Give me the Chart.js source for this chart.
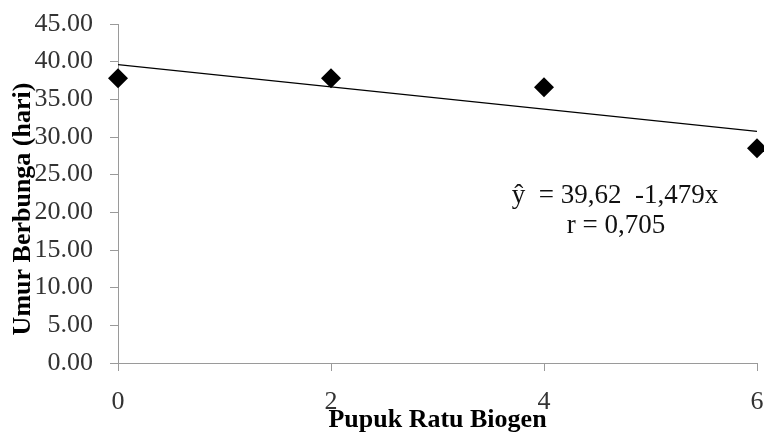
<!DOCTYPE html>
<html><head><meta charset="utf-8">
<script src="https://cdn.jsdelivr.net/npm/chart.js@4"></script>
<style>html,body{margin:0;padding:0;background:#fff}</style>
</head><body>
<canvas id="c" width="764" height="434"></canvas>
<script>
// ---- data ----
const doses = [0, 2, 4, 6];
const floweringAge = [37.8, 37.8, 36.6, 28.5];
const trendX = [0, 6];
const trendY = [39.62, 30.75];
const xTickValues = [0, 2, 4, 6];
const yTickValues = [0, 5, 10, 15, 20, 25, 30, 35, 40, 45];
const xTitle = 'Pupuk Ratu Biogen';
const yTitle = 'Umur Berbunga (hari)';
const equationLines = ['ŷ  = 39,62  -1,479x', 'r = 0,705'];

const serif = '"Liberation Serif", "Times New Roman", serif';
const axisGray = '#9a9a9a';

const textPlugin = {
  id: 'texts',
  afterDraw(chart) {
    const ctx = chart.ctx;
    ctx.save();
    ctx.fillStyle = '#000';
    ctx.font = 'bold 26px ' + serif;
    ctx.textAlign = 'center';
    ctx.textBaseline = 'middle';
    ctx.translate(23, 209);
    ctx.rotate(-Math.PI / 2);
    ctx.fillText(yTitle, 0, 0);
    ctx.restore();

    ctx.save();
    ctx.fillStyle = '#111';
    ctx.font = '27px ' + serif;
    ctx.textAlign = 'center';
    ctx.textBaseline = 'alphabetic';
    ctx.fillText(equationLines[0], 615, 203);
    ctx.fillText(equationLines[1], 616, 233);
    ctx.restore();
  }
};

new Chart(document.getElementById('c'), {
  type: 'scatter',
  data: {
    datasets: [
      {
        type: 'line',
        data: trendX.map((x, i) => ({x, y: trendY[i]})),
        borderColor: '#000',
        borderWidth: 1.3,
        pointRadius: 0,
        fill: false,
        order: 2
      },
      {
        data: doses.map((x, i) => ({x, y: floweringAge[i]})),
        pointStyle: 'rectRot',
        pointRadius: 10,
        pointHoverRadius: 10,
        backgroundColor: '#000',
        borderColor: '#000',
        borderWidth: 0,
        clip: false,
        order: 1
      }
    ]
  },
  options: {
    responsive: false,
    animation: false,
    events: [],
    layout: { autoPadding: false, padding: { left: 0, right: 7, top: 24, bottom: 0 } },
    plugins: { legend: { display: false }, tooltip: { enabled: false } },
    scales: {
      x: {
        type: 'linear',
        min: 0, max: 6,
        afterBuildTicks: s => { s.ticks = xTickValues.map(v => ({value: v})); },
        afterFit: s => { s.height = 71; s.paddingLeft = 0; s.paddingRight = 0; },
        grid: { display: true, drawOnChartArea: false, drawTicks: true, tickLength: 8, color: axisGray, lineWidth: 1 },
        border: { display: true, color: axisGray, width: 1 },
        ticks: { color: '#333', font: { family: serif, size: 26 }, padding: 16, maxRotation: 0, autoSkip: false },
        title: { display: true, text: xTitle, color: '#000', font: { family: serif, size: 26, weight: 'bold', lineHeight: 1 }, padding: { top: 0, bottom: 1 } }
      },
      y: {
        type: 'linear',
        min: 0, max: 45,
        afterBuildTicks: s => { s.ticks = yTickValues.map(v => ({value: v})); },
        afterFit: s => { s.width = 118; s.paddingTop = 0; s.paddingBottom = 0; },
        grid: { display: true, drawOnChartArea: false, drawTicks: true, tickLength: 8, color: axisGray, lineWidth: 1 },
        border: { display: true, color: axisGray, width: 1 },
        ticks: { color: '#333', font: { family: serif, size: 26 }, padding: 17, autoSkip: false, callback: v => Number(v).toFixed(2) }
      }
    }
  },
  plugins: [textPlugin]
});
</script>
</body></html>
